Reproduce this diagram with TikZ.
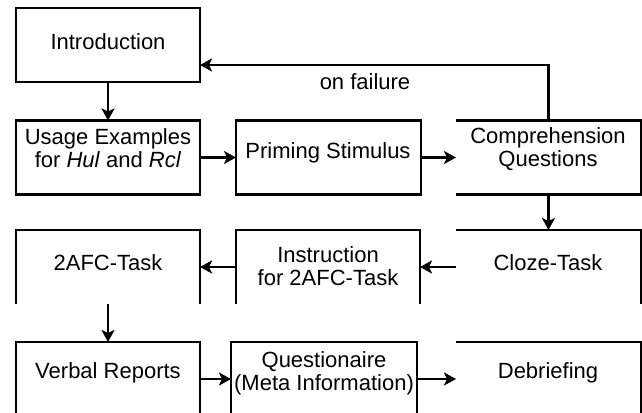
\documentclass[tikz,border=0pt]{standalone}
\usepackage{fontspec}
\setmainfont{Liberation Sans}
\usetikzlibrary{arrows.meta}
\begin{document}
\begin{tikzpicture}[x=1pt,y=-1pt,
  edge/.style={line width=2.4pt},
  stagebox/.style={minimum width=184pt,minimum height=74pt,inner sep=0pt,outer sep=0pt},
  caption/.style={font=\fontsize{22}{23}\selectfont,align=center,inner sep=0pt},
  arr/.style={line width=2.6pt,-{Stealth[length=12pt,width=13pt,inset=3pt]}}]
\useasboundingbox (0,0) rectangle (642,412);

% stage boxes (geometry only)
\node[stagebox,draw,line width=2.4pt] (intro)  at (108,45)    {};
\node[stagebox,draw,line width=2.4pt] (usage)  at (108,157.5) {};
\node[stagebox,draw,line width=2.4pt,minimum width=185pt] (prime) at (328.5,157.5) {};
\node[stagebox,minimum width=185pt] (comp)    at (548.5,157.5) {};
\node[stagebox] (afc)     at (108,267)   {};
\node[stagebox] (instr)   at (328,267)   {};
\node[stagebox,minimum width=185pt] (cloze)   at (548.5,267) {};
\node[stagebox] (verbal)  at (108,379)   {};
\node[stagebox,minimum width=186pt] (quest)   at (324,379)   {};
\node[stagebox,minimum width=185pt] (debrief) at (548.5,379) {};

% open box outlines
\draw[edge] (comp.north west) -- (comp.north east) -- (comp.south east) -- (comp.south west);
\draw[edge] (afc.south west) -- (afc.north west) -- (afc.north east) -- (afc.south east);
\draw[edge] (instr.south west) -- (instr.north west) -- (instr.north east) -- (instr.south east);
\draw[edge] (cloze.north west) -- (cloze.north east) -- (cloze.south east);
\draw[edge] (verbal.south west) -- (verbal.north west) -- (verbal.north east) -- (verbal.south east);
\draw[edge] (quest.south west) -- (quest.north west) -- (quest.north east) -- (quest.south east);
\draw[edge] (debrief.north west) -- (debrief.north east) -- (debrief.south east);

% labels
\node[caption] (intro-t)   at (108,42)  {Introduction};
\node[caption] (usage-t)   at (108,148) {Usage Examples\\for \textit{Hul} and \textit{Rcl}};
\node[caption] (prime-t)   at (328,153) {Priming Stimulus};
\node[caption] (comp-t)    at (548,149) {Comprehension\\Questions};
\node[caption] (afc-t)     at (108,263) {2AFC-Task};
\node[caption] (instr-t)   at (328,266) {Instruction\\for 2AFC-Task};
\node[caption] (cloze-t)   at (548,263) {Cloze-Task};
\node[caption] (verbal-t)  at (108,373) {Verbal Reports};
\node[caption] (quest-t)   at (324,373) {Questionaire\\(Meta Information)};
\node[caption] (debrief-t) at (548,373) {Debriefing};
\node[caption] (fail-t)    at (365,82)  {on failure};

% flow
\draw[arr] (intro) -- (usage);
\draw[arr] (usage) -- (prime);
\draw[arr] (prime) -- (comp);
\draw[arr] (comp.north) |- ([yshift=-20pt]intro.east);
\draw[arr] (comp) -- (cloze);
\draw[arr] (cloze) -- (instr);
\draw[arr] (instr) -- (afc);
\draw[arr] (afc) -- (verbal);
\draw[arr] (verbal) -- (quest);
\draw[arr] (quest) -- (debrief);
\end{tikzpicture}
\end{document}
